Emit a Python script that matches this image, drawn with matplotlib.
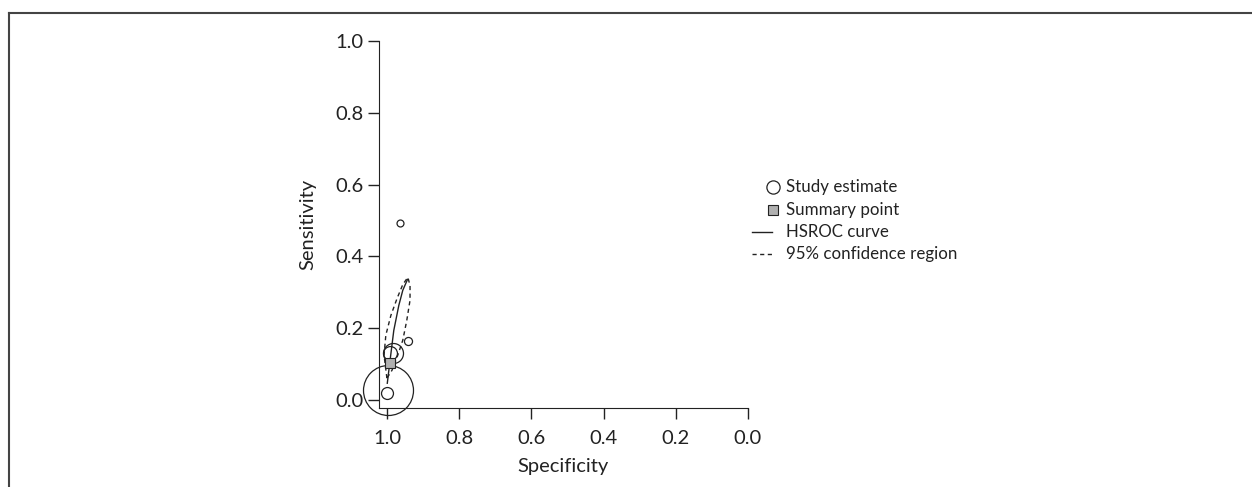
import matplotlib
matplotlib.use('Agg')
import matplotlib.pyplot as plt
from matplotlib.lines import Line2D

plt.rcParams['font.family'] = ['Lato', 'DejaVu Sans']

# Study estimates (specificity, sensitivity) and relative weight
study_spec = [0.964, 0.943, 0.983, 0.992, 0.998, 1.000]
study_sens = [0.492, 0.164, 0.130, 0.130, 0.028, 0.021]
study_weight = [5, 5.8, 14.4, 10, 36, 8.6]

# Summary point
summary_spec = [0.992]
summary_sens = [0.104]

# HSROC curve
hsroc_spec = [0.999, 0.992, 0.981, 0.967, 0.956, 0.943]
hsroc_sens = [0.047, 0.105, 0.194, 0.264, 0.306, 0.336]

# 95% confidence region
conf_spec = [1.000, 1.008, 1.003, 0.989, 0.972, 0.956, 0.942, 0.936, 0.936,
             0.945, 0.956, 0.970, 0.986, 1.000]
conf_sens = [0.061, 0.125, 0.181, 0.236, 0.283, 0.322, 0.342, 0.319, 0.278,
             0.222, 0.167, 0.125, 0.083, 0.061]

ticks = [1.0, 0.8, 0.6, 0.4, 0.2, 0.0]
tick_labels = ['1.0', '0.8', '0.6', '0.4', '0.2', '0.0']

fig = plt.figure(figsize=(12.52, 4.87), dpi=100)
ax = fig.add_axes([0.3027, 0.1622, 0.2947, 0.7536])

ax.plot(conf_spec, conf_sens, color='#222222', lw=1.0, ls=(0, (3, 2.5)), clip_on=False)
ax.plot(hsroc_spec, hsroc_sens, color='#222222', lw=1.0, clip_on=False)
for sx, sy, w in zip(study_spec, study_sens, study_weight):
    ax.plot(sx, sy, 'o', ms=w, mfc='none', mec='#222222', mew=0.9, clip_on=False, zorder=3)
ax.plot(summary_spec, summary_sens, 's', ms=7.5, mfc='#b0b0b0', mec='#222222', mew=0.8,
        clip_on=False, zorder=4)

ax.set_xlim(1.022, 0.0)
ax.set_ylim(-0.022, 1.0)
ax.spines['top'].set_visible(False)
ax.spines['right'].set_visible(False)
ax.set_xticks(ticks)
ax.set_xticklabels(tick_labels)
ax.set_yticks(ticks)
ax.set_yticklabels(tick_labels)
ax.tick_params(direction='out', length=8, width=1, colors='#222222', labelsize=14.5)
ax.tick_params(axis='x', pad=8)
ax.tick_params(axis='y', pad=3)
for s in ax.spines.values():
    s.set_color('#222222')
ax.set_xlabel('Specificity', fontsize=14.5, color='#222222', labelpad=8)
ax.set_ylabel('Sensitivity', fontsize=14.5, color='#222222', labelpad=14)

# legend drawn by hand
legend_items = ['Study estimate', 'Summary point', 'HSROC curve', '95% confidence region']
lx0, lx1, lxm, ltx = 752 / 1252, 772 / 1252, 773 / 1252, 786 / 1252
rows = [1 - 187 / 487, 1 - 210 / 487, 1 - 232 / 487, 1 - 254 / 487]
fig.add_artist(Line2D([lxm], [rows[0]], marker='o', ms=9.5, mfc='none', mec='#222222', mew=0.9,
                      transform=fig.transFigure))
fig.add_artist(Line2D([lxm], [rows[1]], marker='s', ms=7, mfc='#b0b0b0', mec='#222222', mew=0.8,
                      transform=fig.transFigure))
fig.add_artist(Line2D([lx0, lx1], [rows[2], rows[2]], color='#222222', lw=1.0,
                      transform=fig.transFigure))
fig.add_artist(Line2D([lx0, lx1], [rows[3], rows[3]], color='#222222', lw=1.0, ls=(0, (3, 2.5)),
                      transform=fig.transFigure))
for label, y in zip(legend_items, rows):
    fig.text(ltx, y, label, fontsize=12.2, color='#222222', va='center', ha='left')

# outer frame
fx, fy = 9 / 1252, 1 - 13 / 487
fig.add_artist(Line2D([fx, 1.0], [fy, fy], color='#444444', lw=1.5, transform=fig.transFigure))
fig.add_artist(Line2D([fx, fx], [fy, 0.0], color='#444444', lw=1.5, transform=fig.transFigure))

fig.savefig('out.png', dpi=100)
